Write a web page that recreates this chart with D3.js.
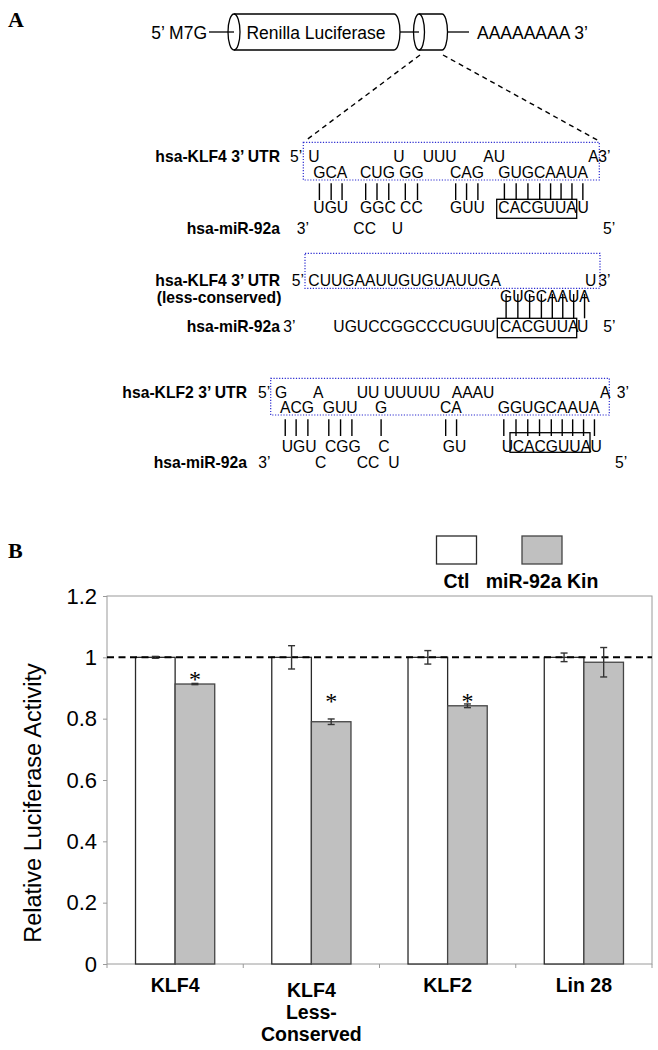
<!DOCTYPE html>
<html><head><meta charset="utf-8">
<script src="https://cdn.jsdelivr.net/npm/d3@7/dist/d3.min.js"></script>
<style>
html,body{margin:0;padding:0;background:#fff;}
svg text{font-family:"Liberation Sans",Arial,sans-serif;}
</style></head>
<body>
<svg id="fig" width="658" height="1050"></svg>
<script>
// ---------------- Panel B data ----------------
const categories = ["KLF4", "KLF4 Less-Conserved", "KLF2", "Lin 28"];
const categoryLines = [["KLF4"], ["KLF4", "Less-", "Conserved"], ["KLF2"], ["Lin 28"]];
const series = ["Ctl", "miR-92a Kin"];
const ctlValues = [1.0, 1.0, 1.0, 1.0];
const ctlErrors = [0.003, 0.038, 0.022, 0.014];
const kinValues = [0.913, 0.79, 0.842, 0.984];
const kinErrors = [0.002, 0.009, 0.006, 0.048];
const significant = [true, true, true, false];
const starLevels = [0.942, 0.871, 0.871, null];
const yTicks = [0, 0.2, 0.4, 0.6, 0.8, 1, 1.2];
const yTitle = "Relative Luciferase Activity";
const refLevel = 1;

// ---------------- Panel A diagram text ----------------
const constructParts = ["5’ M7G", "Renilla Luciferase", "AAAAAAAA 3’"];
const duplexBlocks = [
  { labels: [["hsa-KLF4 3’ UTR", 280, 162, "end"], ["hsa-miR-92a", 280, 233.5, "end"]],
    box: [303.3, 142.3, 599.3, 180], seed: [496.7, 199.3, 576.7, 218.3], pipes: [183.3, 200],
    rows: [
      { y: 162, segs: [["5’", 290], ["U", 308.3], ["U", 393.3], ["UUU", 422.7], ["AU", 483.3], ["A", 588.3], ["3’", 598.3]] },
      { y: 177.7, pair: true, segs: [["GCA", 313.3], ["CUG GG", 360], ["CAG", 450], ["GUGCAAUA", 498.3]] },
      { y: 213.3, segs: [["UGU", 313.3], ["GGC CC", 360], ["GUU", 450], ["CACGUUA", 498.3], ["U", 577.5]] },
      { y: 233.5, segs: [["3’", 296.7], ["CC", 353.3], ["U", 391.7], ["5’", 603]] }
    ] },
  { labels: [["hsa-KLF4 3’ UTR", 280, 286, "end"], ["(less-conserved)", 156.7, 302.5, "start"], ["hsa-miR-92a", 280, 332, "end"]],
    box: [305, 253.3, 600, 288.3], seed: [497.3, 318.3, 576.7, 337.7], pipes: [294, 318.3],
    rows: [
      { y: 286, segs: [["5’", 291.7], ["CUUGAAUUGUGUAUUGA", 308.3], ["U", 585], ["3’", 598.3]] },
      { y: 301.7, pair: true, segs: [["GUGCAAUA", 500]] },
      { y: 332, segs: [["3’", 283.3], ["UGUCCGGCCCUGUU", 333.3], ["CACGUUA", 500], ["U", 577], ["5’", 603.3]] }
    ] },
  { labels: [["hsa-KLF2 3’ UTR", 247, 398, "end"], ["hsa-miR-92a", 247, 468.3, "end"]],
    box: [270.7, 378.3, 609.3, 415], seed: [510, 432.7, 590, 452.3], pipes: [419.3, 436],
    rows: [
      { y: 398, segs: [["5’", 258], ["G", 275], ["A", 313], ["UU UUUUU", 356.7], ["AAAU", 451.7], ["A", 600], ["3’", 616.7]] },
      { y: 413.3, pair: true, segs: [["ACG", 280], ["GUU", 322.7], ["G", 375], ["CA", 440], ["GGUGCAAUA", 497.7]] },
      { y: 451.5, segs: [["UGU", 281.7], ["CGG", 325], ["C", 378.3], ["GU", 442.7], ["U", 501.7], ["CACGUUA", 512.7], ["U", 590.5]] },
      { y: 468.3, segs: [["3’", 258.3], ["C", 315], ["CC", 356.7], ["U", 388.3], ["5’", 615]] }
    ] }
];

const svg = d3.select("#fig");

const serif = '"Liberation Serif","Times New Roman",serif';
svg.append("text").attr("x", 8).attr("y", 27).text("A")
  .style("font-family", serif).attr("font-weight", "bold").attr("font-size", 22);
svg.append("text").attr("x", 8).attr("y", 558).text("B")
  .style("font-family", serif).attr("font-weight", "bold").attr("font-size", 22);

// ---------------- construct schematic ----------------
const schem = svg.append("g");
const cy = 32, ry = 18;
function cylinder(xl, xr, rx) {
  schem.append("path")
    .attr("d", `M${xl},${cy - ry} L${xr},${cy - ry} A${rx},${ry} 0 0 1 ${xr},${cy + ry} L${xl},${cy + ry}`)
    .attr("fill", "none").attr("stroke", "#000").attr("stroke-width", 1.3);
  schem.append("ellipse").attr("cx", xl).attr("cy", cy).attr("rx", rx).attr("ry", ry)
    .attr("fill", "none").attr("stroke", "#000").attr("stroke-width", 1.3);
}
[[209, 234], [400, 419], [448, 469]].forEach(s =>
  schem.append("line").attr("x1", s[0]).attr("x2", s[1]).attr("y1", cy).attr("y2", cy)
    .attr("stroke", "#000").attr("stroke-width", 1.3));
cylinder(234, 394, 6);
cylinder(419, 442, 5.5);
schem.append("text").attr("x", 207).attr("y", 39).attr("text-anchor", "end").attr("font-size", 17.5).text(constructParts[0]);
schem.append("text").attr("x", 316).attr("y", 39).attr("text-anchor", "middle").attr("font-size", 17.5).text(constructParts[1]);
schem.append("text").attr("x", 477).attr("y", 39).attr("font-size", 17.5).text(constructParts[2]);
[[420, 55, 305, 141], [443, 55, 599, 141]].forEach(l =>
  schem.append("line").attr("x1", l[0]).attr("y1", l[1]).attr("x2", l[2]).attr("y2", l[3])
    .attr("stroke", "#000").attr("stroke-width", 1.4).attr("stroke-dasharray", "5,4"));

// ---------------- duplexes ----------------
duplexBlocks.forEach(b => {
  const g = svg.append("g");
  g.append("rect").attr("x", b.box[0]).attr("y", b.box[1])
    .attr("width", b.box[2] - b.box[0]).attr("height", b.box[3] - b.box[1])
    .attr("fill", "none").attr("stroke", "#2b2bd0").attr("stroke-width", 1.2).attr("stroke-dasharray", "1.2,1.6");
  b.labels.forEach(l => g.append("text").attr("x", l[1]).attr("y", l[2]).attr("text-anchor", l[3])
    .attr("font-weight", "bold").attr("font-size", 15.7).text(l[0]));
  b.rows.forEach(r => {
    r.segs.forEach(s => {
      const t = g.append("text").attr("x", s[1]).attr("y", r.y).attr("font-size", 15.7)
        .style("white-space", "pre").text(s[0]);
      if (r.pair) {
        const node = t.node();
        for (let i = 0; i < s[0].length; i++) {
          if (s[0][i] === " ") continue;
          const e = node.getExtentOfChar(i);
          const cx = e.x + e.width / 2;
          g.append("line").attr("x1", cx).attr("x2", cx).attr("y1", b.pipes[0]).attr("y2", b.pipes[1])
            .attr("stroke", "#000").attr("stroke-width", 1.4);
        }
      }
    });
  });
  g.append("rect").attr("x", b.seed[0]).attr("y", b.seed[1])
    .attr("width", b.seed[2] - b.seed[0]).attr("height", b.seed[3] - b.seed[1])
    .attr("fill", "none").attr("stroke", "#000").attr("stroke-width", 1.3);
});

// ---------------- bar chart ----------------
const left = 107, right = 652, yTop = 596, yBot = 964;
const x0 = d3.scaleBand().domain(categories).range([left, right]).padding(0);
const x1 = d3.scaleBand().domain(series).range([0, x0.bandwidth()]).paddingInner(0).paddingOuter(0.72);
const y = d3.scaleLinear().domain([0, 1.2]).range([yBot, yTop]);
const fills = { "Ctl": "#ffffff", "miR-92a Kin": "#c0c0c0" };
const strokes = { "Ctl": "#2a2a2a", "miR-92a Kin": "#444444" };

const chart = svg.append("g");
chart.append("rect").attr("x", left).attr("y", yTop).attr("width", right - left).attr("height", yBot - yTop)
  .attr("fill", "none").attr("stroke", "#9a9a9a").attr("stroke-width", 1);

const yAxis = chart.append("g").attr("transform", `translate(${left},0)`)
  .call(d3.axisLeft(y).tickValues(yTicks).tickSize(4).tickPadding(6).tickFormat(d => String(d)));
yAxis.select(".domain").remove();
yAxis.selectAll(".tick line").attr("stroke", "#9a9a9a");
yAxis.selectAll(".tick text").attr("font-size", 22).attr("fill", "#000")
  .style("font-family", '"Liberation Sans",Arial,sans-serif');

const boundaries = categories.map(c => x0(c)).concat([right]);
chart.selectAll(".xtick").data(boundaries).join("line")
  .attr("x1", d => d).attr("x2", d => d).attr("y1", yBot).attr("y2", yBot + 4)
  .attr("stroke", "#9a9a9a");

chart.append("text").attr("transform", `translate(41,803) rotate(-90)`).attr("text-anchor", "middle")
  .attr("font-size", 23.5).text(yTitle);

const barData = [];
categories.forEach((c, i) => {
  barData.push({ cat: c, s: "Ctl", v: ctlValues[i], e: ctlErrors[i] });
  barData.push({ cat: c, s: "miR-92a Kin", v: kinValues[i], e: kinErrors[i] });
});
chart.selectAll(".bar").data(barData).join("rect")
  .attr("x", d => x0(d.cat) + x1(d.s)).attr("width", x1.bandwidth())
  .attr("y", d => y(d.v)).attr("height", d => y(0) - y(d.v))
  .attr("fill", d => fills[d.s]).attr("stroke", d => strokes[d.s]).attr("stroke-width", 1.3);

chart.append("line").attr("x1", left).attr("x2", right).attr("y1", y(refLevel)).attr("y2", y(refLevel))
  .attr("stroke", "#000").attr("stroke-width", 2).attr("stroke-dasharray", "7,4.5");

const eb = chart.selectAll(".eb").data(barData).join("g")
  .attr("transform", d => `translate(${x0(d.cat) + x1(d.s) + x1.bandwidth() / 2},0)`);
eb.append("line").attr("y1", d => y(d.v - d.e)).attr("y2", d => y(d.v + d.e)).attr("stroke", "#333").attr("stroke-width", 1.4);
eb.append("line").attr("x1", -3.5).attr("x2", 3.5).attr("y1", d => y(d.v + d.e)).attr("y2", d => y(d.v + d.e)).attr("stroke", "#333").attr("stroke-width", 1.4);
eb.append("line").attr("x1", -3.5).attr("x2", 3.5).attr("y1", d => y(d.v - d.e)).attr("y2", d => y(d.v - d.e)).attr("stroke", "#333").attr("stroke-width", 1.4);

categories.forEach((c, i) => {
  if (!significant[i]) return;
  chart.append("text").attr("x", x0(c) + x1("miR-92a Kin") + x1.bandwidth() / 2)
    .attr("y", y(starLevels[i]) + 12).attr("text-anchor", "middle")
    .style("font-family", serif).attr("font-size", 24).text("*");
});

categories.forEach((c, i) => {
  const lines = categoryLines[i];
  const base = lines.length > 1 ? 997 : 992;
  lines.forEach((ln, j) => chart.append("text").attr("x", x0(c) + x0.bandwidth() / 2)
    .attr("y", base + j * 22).attr("text-anchor", "middle").attr("font-weight", "bold")
    .attr("font-size", 19.5).text(ln));
});

const lx = d3.scalePoint().domain(series).range([456.5, 542]);
series.forEach(s => {
  chart.append("rect").attr("x", lx(s) - 20).attr("y", 536).attr("width", 40).attr("height", 28)
    .attr("fill", fills[s]).attr("stroke", strokes[s]).attr("stroke-width", 1.3);
  chart.append("text").attr("x", lx(s)).attr("y", 588).attr("text-anchor", "middle")
    .attr("font-weight", "bold").attr("font-size", 19.5).text(s);
});
</script>
</body></html>
